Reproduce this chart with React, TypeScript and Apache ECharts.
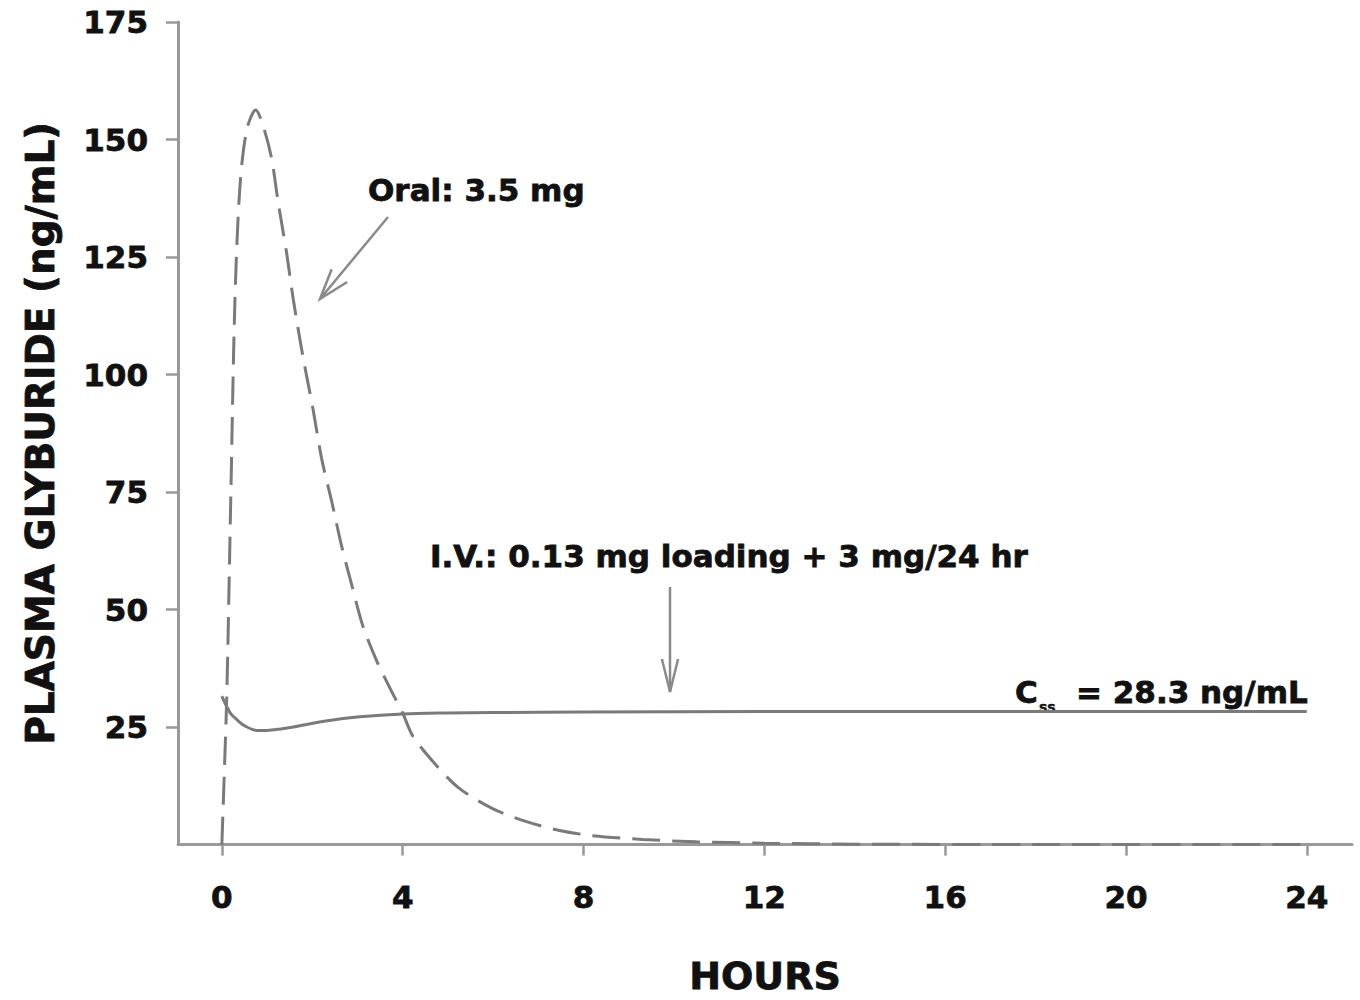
import React, { useEffect, useRef } from "react";
import * as echarts from "echarts";

const xTicks = [0, 4, 8, 12, 16, 20, 24];
const yTicks = [25, 50, 75, 100, 125, 150, 175];

const oralHours = [0, 0.05, 0.11, 0.2, 0.29, 0.4, 0.55, 0.75, 0.91, 1.1, 1.24, 1.43, 1.58, 1.79, 2.01, 2.21, 2.43, 2.65, 2.88, 3.12, 3.43, 3.76, 4, 4.23, 4.75, 5.26, 6, 6.74, 7.47, 8.2, 9.3, 10.5, 12, 14, 18, 24];
const oralConc = [0, 14, 32, 75, 116, 140, 152, 156.3, 153, 146, 137, 126, 116, 104, 93, 82, 73, 63.5, 55, 46.5, 39, 32.5, 28, 23, 16.8, 11.9, 7.6, 4.9, 3, 1.9, 1.1, 0.6, 0.3, 0.1, 0, 0];

const ivHours = [0, 0.1, 0.2, 0.33, 0.5, 0.77, 1.0, 1.3, 1.58, 2.3, 3.05, 4, 5, 6, 8, 12, 24];
const ivConc = [31.6, 29.5, 27.8, 26.6, 25.3, 24.3, 24.3, 24.6, 25, 26.3, 27.2, 27.8, 28, 28.1, 28.2, 28.3, 28.3];

const FONT = "'DejaVu Sans', 'Liberation Sans', Arial, sans-serif";
const INK = "#111";

function arrow(tail: number[], tip: number[], headLen: number, halfAngle: number, color: string) {
  const dx = tail[0] - tip[0];
  const dy = tail[1] - tip[1];
  const len = Math.sqrt(dx * dx + dy * dy);
  const ux = dx / len;
  const uy = dy / len;
  const rot = (a: number) => [
    tip[0] + headLen * (ux * Math.cos(a) - uy * Math.sin(a)),
    tip[1] + headLen * (ux * Math.sin(a) + uy * Math.cos(a)),
  ];
  return [
    { type: "line", shape: { x1: tail[0], y1: tail[1], x2: tip[0], y2: tip[1] }, style: { stroke: color, lineWidth: 2.5 } },
    { type: "polyline", shape: { points: [rot(halfAngle), tip, rot(-halfAngle)] }, style: { stroke: color, lineWidth: 2.5, fill: null } },
  ];
}

export default function App() {
  const ref = useRef<HTMLDivElement>(null);
  useEffect(() => {
    const chart = echarts.init(ref.current!, null, { renderer: "svg" });
    const textBase = { fontFamily: FONT, fontWeight: "bold", color: INK, textBorderColor: INK, textBorderWidth: 0.8 };
    const option: any = {
      animation: false,
      backgroundColor: "#fff",
      grid: { left: 178, right: 8, top: 22, bottom: 154, containLabel: false },
      xAxis: {
        type: "value",
        min: -0.97,
        max: 25,
        axisLine: { show: true, onZero: false, lineStyle: { color: "#999", width: 3 } },
        axisTick: { show: true, customValues: xTicks, length: 11, lineStyle: { color: "#999", width: 2.5 } },
        axisLabel: { customValues: xTicks, margin: 37, fontSize: 31, ...textBase },
        splitLine: { show: false },
        name: "HOURS",
        nameLocation: "middle",
        nameGap: 112,
        nameTextStyle: { fontSize: 38, ...textBase },
      },
      yAxis: {
        type: "value",
        min: 0,
        max: 175,
        interval: 25,
        axisLine: { show: true, onZero: false, lineStyle: { color: "#999", width: 3 } },
        axisTick: { show: true, customValues: yTicks, length: 12, lineStyle: { color: "#999", width: 2.5 } },
        axisLabel: { customValues: yTicks, margin: 30, fontSize: 31, ...textBase },
        splitLine: { show: false },
        name: "PLASMA GLYBURIDE (ng/mL)",
        nameLocation: "middle",
        nameGap: 118,
        nameTextStyle: { fontSize: 39, ...textBase },
      },
      series: [
        {
          type: "line",
          name: "Oral",
          data: oralHours.map((h, i) => [h, oralConc[i]]),
          showSymbol: false,
          smooth: 0.3,
          lineStyle: { color: "#7a7a7a", width: 3, type: [28, 12] },
        },
        {
          type: "line",
          name: "IV",
          data: ivHours.map((h, i) => [h, ivConc[i]]),
          showSymbol: false,
          smooth: 0.3,
          lineStyle: { color: "#7a7a7a", width: 3, type: "solid" },
        },
      ],
    };
    chart.setOption(option);

    const t = (text: string, x: number, y: number, size: number) => ({
      type: "text",
      x,
      y,
      style: { text, font: `bold ${size}px ${FONT}`, fill: INK, stroke: INK, lineWidth: size > 20 ? 0.8 : 0.4, verticalAlign: "middle" },
    });
    const graphics: any[] = [
      t("Oral: 3.5 mg", 368, 190, 31),
      t("I.V.: 0.13 mg loading + 3 mg/24 hr", 430, 556, 31),
      t("C", 1015, 692, 31),
      t("ss", 1039, 707, 14),
      t("= 28.3 ng/mL", 1076, 692, 31),
      ...arrow([388, 217], [320, 299], 32, 0.32, "#8a8a8a"),
      ...arrow([670, 587], [670, 692], 34, 0.24, "#8a8a8a"),
    ];
    chart.setOption({ graphic: graphics });
    return () => chart.dispose();
  }, []);
  return (
    <div
      ref={ref}
      style={{ position: "absolute", left: 0, top: 0, width: 1360, height: 1000, background: "#fff" }}
    />
  );
}
